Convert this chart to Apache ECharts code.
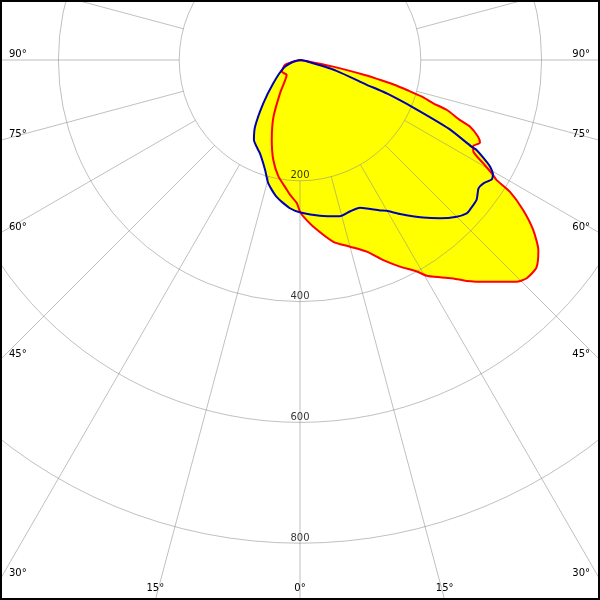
<!DOCTYPE html>
<html><head><meta charset="utf-8">
<script src="https://cdn.jsdelivr.net/npm/echarts@6/dist/echarts.min.js"></script>
<style>html,body{margin:0;padding:0;background:#fff}#c{width:600px;height:600px}</style>
</head><body><div id="c"></div>
<script>
// gamma angle (deg from nadir, + to the right) and intensity
const redAngles = [-180,-90,-74,-72,-57,-42,-31,-25,-19.5,-15,-10.5,-5.8,-4.2,-1.3,0,1.2,4.6,10.4,15,19.2,22.6,25.8,28.9,30.4,32.8,35.1,37,40.1,44.3,46.1,48.7,51.4,53.9,56.1,57.9,58.6,59.3,60.6,62.1,63.6,65.3,66.7,68.6,69.4,71.2,72,73.3,74.3,75.2,76,77,78.7,82,90,180];
const redValues = [0,0,4,26,36,33,64,104,140,171,196,216,224,237,251,259,277,306,320,336,359,380,400,414,428,442,458,480,513,521,521,505,478,445,410,381,371,348,325,320,328,321,302,283,257,232,210,185,165,140,110,56,8,0,0];
const blueAngles = [-180,-85,-76,-63.6,-48.9,-40.3,-34,-29.9,-23.3,-17.6,-14.4,-9.7,-3.9,0.6,7.3,14.3,18.2,22.1,28,29.9,33,38,41.5,45,47.4,48.6,51.6,54.3,56.1,58.1,59.4,60.7,61.4,63,63.2,65.2,67.3,68.9,69.3,69.6,73.5,80,88,180];
const blueValues = [0,0,12,31,59,94,133,153,168,191,211,230,246,253,260,267,264,264,282,288,304,331,350,367,375,375,373,364,366,374,371,361,352,328,318,272,201,155,138,118,63,10,0,0];
const ringTicks = [200,400,600,800];
const angleLabelValues = [90,75,60,45,30,15,0];

const CX = 300, CY = 60, PX = 0.604;
const GRID = 'rgba(140,140,140,0.55)';
const FONT = 'DejaVu Sans';
const SMOOTH = 0.2;

const redData = redAngles.map((a,i)=>[redValues[i], a]);
const blueData = blueAngles.map((a,i)=>[blueValues[i], a]);

// angle labels at the frame border
const graphics = [];
function addLabel(theta, side){
  const t = theta*Math.PI/180;
  const sx = Math.sin(t)*side, sy = Math.cos(t);
  let tx = sx !== 0 ? (side<0 ? (0-CX)/sx : (600-CX)/sx) : Infinity;
  let ty = (600-CY)/sy;
  if (sy <= 0) ty = Infinity;
  const txt = theta + '°';
  if (tx < ty) {
    const y = CY + sy*tx;
    graphics.push({type:'text', x: side<0?9:590, y: y-6, style:{text:txt, fill:'#000', font:'10px "'+FONT+'"', align: side<0?'left':'right', verticalAlign:'middle'}, z:50});
  } else {
    const x = CX + sx*ty;
    graphics.push({type:'text', x: x, y: 588, style:{text:txt, fill:'#000', font:'10px "'+FONT+'"', align:'center', verticalAlign:'middle'}, z:50});
  }
}
angleLabelValues.forEach(a=>{ if (a===0) addLabel(0,1); else { addLabel(a,-1); addLabel(a,1);} });
graphics.push({type:'rect', shape:{x:1,y:1,width:598,height:598}, style:{fill:'none', stroke:'#000', lineWidth:2}, z:60});

const chart = echarts.init(document.getElementById('c'), null, {renderer:'canvas'});
chart.setOption({
  animation:false,
  backgroundColor:'#fff',
  polar:[
    {center:[CX,CY], radius:[0, 1000*PX]},
    {center:[CX,CY], radius:[200*PX, 1100*PX]}
  ],
  angleAxis:[
    {polarIndex:0, type:'value', min:-180, max:180, startAngle:90, clockwise:false, show:false},
    {polarIndex:1, type:'value', min:0, max:360, interval:15, startAngle:-90, z:10,
     axisLine:{show:false}, axisTick:{show:false}, axisLabel:{show:false},
     splitLine:{show:true, lineStyle:{color:GRID, width:1}}}
  ],
  radiusAxis:[
    {polarIndex:0, type:'value', min:0, max:1000, show:false},
    {polarIndex:1, type:'value', min:200, max:1100, interval:200, z:10,
     axisLine:{show:false}, axisTick:{show:false}, axisLabel:{show:false},
     splitLine:{show:true, lineStyle:{color:[GRID,GRID,GRID,GRID,'rgba(0,0,0,0)','rgba(0,0,0,0)'], width:1}}}
  ],
  series:[
    {type:'line', coordinateSystem:'polar', polarIndex:0, data:redData, showSymbol:false, silent:true, z:1, smooth:SMOOTH,
     lineStyle:{width:0, opacity:0}, areaStyle:{color:'#ffff00', opacity:1}},
    {type:'line', coordinateSystem:'polar', polarIndex:0, data:blueData, showSymbol:false, silent:true, z:1, smooth:SMOOTH,
     lineStyle:{width:0, opacity:0}, areaStyle:{color:'#ffff00', opacity:1}},
    {type:'line', coordinateSystem:'polar', polarIndex:0, data:redData, showSymbol:false, silent:true, z:20, smooth:SMOOTH,
     lineStyle:{width:2, color:'#ff0000'}},
    {type:'line', coordinateSystem:'polar', polarIndex:0, data:blueData, showSymbol:false, silent:true, z:21, smooth:SMOOTH,
     lineStyle:{width:2, color:'#0000b4'}},
    {type:'scatter', coordinateSystem:'polar', polarIndex:1, clip:false, silent:true, z:30,
     data: ringTicks.map(v=>[v,0]), symbolSize:0,
     label:{show:true, position:'top', distance:0, formatter:p=>String(p.value[0]), color:'#000', fontFamily:FONT, fontSize:10}}
  ],
  graphic: graphics
});
</script></body></html>
